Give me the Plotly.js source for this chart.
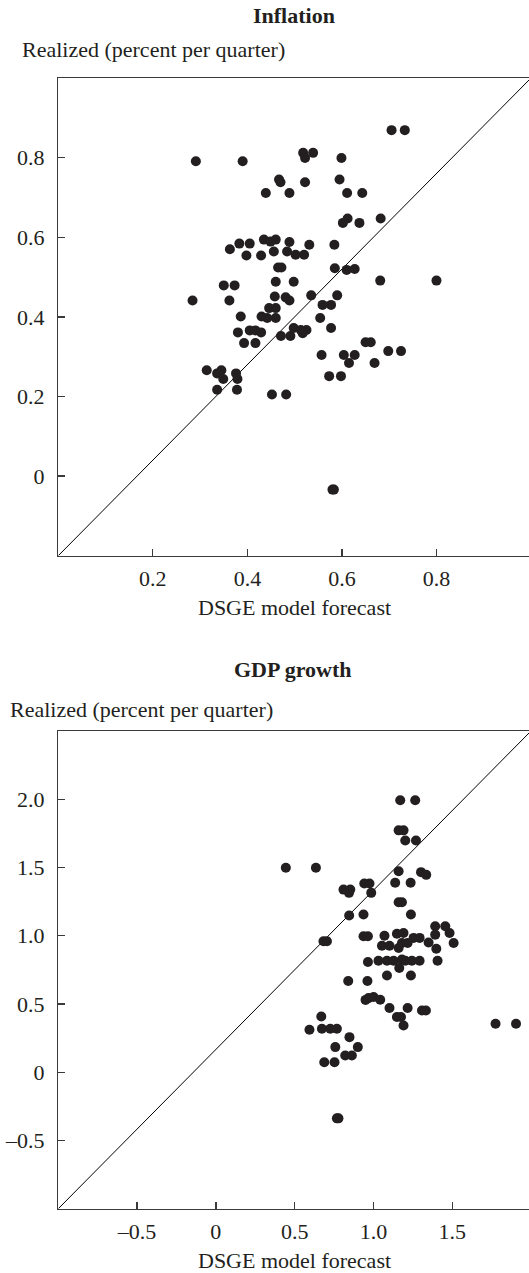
<!DOCTYPE html>
<html>
<head>
<meta charset="utf-8">
<script src="https://cdn.plot.ly/plotly-3.0.1.min.js"></script>
<style>
html,body{margin:0;padding:0;background:#fff;overflow:hidden;}
#chart{width:531px;height:1273px;}
</style>
</head>
<body>
<div id="chart"></div>
<script>
// ---- Inflation panel ----
const inflForecast = [0.291,0.390,0.518,0.539,0.522,0.599,0.705,0.733,0.467,0.470,0.522,0.595,0.439,0.489,0.611,0.643,
  0.612,0.602,0.637,0.682,0.435,0.460,0.449,0.489,0.363,0.383,0.405,0.398,0.429,0.456,0.484,0.502,0.520,0.531,0.584,
  0.465,0.472,0.585,0.610,0.627,0.460,0.498,0.681,0.800,0.350,0.373,0.284,0.362,0.458,0.481,0.489,0.535,0.590,0.559,
  0.577,0.446,0.460,0.386,0.430,0.442,0.460,0.554,0.380,0.405,0.417,0.429,0.393,0.417,0.471,0.491,0.498,0.513,0.525,
  0.517,0.577,0.557,0.604,0.627,0.615,0.650,0.661,0.669,0.698,0.725,0.573,0.598,0.314,0.336,0.345,0.349,0.376,0.379,
  0.336,0.378,0.452,0.482,0.580,0.583];
const inflRealized = [0.791,0.791,0.812,0.812,0.799,0.799,0.869,0.869,0.745,0.738,0.738,0.745,0.711,0.711,0.711,0.711,
  0.647,0.636,0.636,0.647,0.594,0.594,0.589,0.588,0.570,0.584,0.584,0.554,0.554,0.564,0.564,0.556,0.556,0.581,0.581,
  0.524,0.524,0.522,0.518,0.520,0.488,0.488,0.491,0.491,0.479,0.479,0.441,0.441,0.451,0.449,0.441,0.454,0.454,0.430,
  0.430,0.422,0.422,0.401,0.401,0.397,0.397,0.397,0.361,0.366,0.366,0.361,0.334,0.334,0.352,0.352,0.372,0.367,0.367,
  0.359,0.372,0.304,0.304,0.304,0.284,0.336,0.336,0.284,0.314,0.314,0.251,0.251,0.266,0.258,0.266,0.244,0.258,0.244,
  0.217,0.217,0.205,0.205,-0.034,-0.034];
const inflXRange = [0, 1.0];
const inflYRange = [-0.2, 1.0];
const inflXTicks = [0.2, 0.4, 0.6, 0.8];
const inflXTickText = ["0.2", "0.4", "0.6", "0.8"];
const inflYTicks = [0, 0.2, 0.4, 0.6, 0.8];
const inflYTickText = ["0", "0.2", "0.4", "0.6", "0.8"];

// ---- GDP growth panel ----
const gdpForecast = [0.444,0.635,1.170,1.265,1.160,1.191,1.202,1.270,1.160,1.302,1.335,1.138,1.236,0.942,0.975,0.986,
  0.810,0.853,0.845,1.160,1.181,1.238,0.846,0.937,1.392,1.456,1.483,1.392,1.509,0.683,0.705,0.937,0.965,1.070,
  1.149,1.191,1.255,1.293,1.054,1.102,1.160,1.181,1.217,1.350,1.399,0.965,1.032,1.086,1.128,1.181,1.202,1.244,1.293,1.407,
  1.164,1.086,1.238,0.840,0.962,0.969,1.001,1.043,0.950,1.102,1.217,1.308,1.333,1.149,1.175,1.191,
  0.594,0.669,0.673,0.726,0.768,0.848,0.758,0.901,0.821,0.863,0.688,0.753,0.768,0.778,1.775,1.905];
const gdpRealized = [1.498,1.498,1.992,1.992,1.772,1.772,1.698,1.698,1.473,1.466,1.446,1.388,1.388,1.383,1.383,1.314,
  1.338,1.338,1.314,1.245,1.245,1.155,1.148,1.155,1.069,1.069,1.020,1.008,0.947,0.959,0.959,0.996,0.996,1.000,
  1.015,1.020,0.984,0.984,0.927,0.927,0.910,0.947,0.947,0.951,0.905,0.807,0.817,0.817,0.817,0.825,0.817,0.817,0.817,0.817,
  0.763,0.709,0.709,0.668,0.668,0.543,0.551,0.531,0.530,0.470,0.470,0.452,0.452,0.404,0.404,0.342,
  0.311,0.408,0.318,0.318,0.318,0.257,0.184,0.184,0.122,0.122,0.073,0.073,-0.338,-0.338,0.355,0.355];
const gdpXRange = [-1.0, 2.0];
const gdpYRange = [-1.0, 2.5];
const gdpXTicks = [-0.5, 0, 0.5, 1.0, 1.5];
const gdpXTickText = ["\u20130.5", "0", "0.5", "1.0", "1.5"];
const gdpYTicks = [-0.5, 0, 0.5, 1.0, 1.5, 2.0];
const gdpYTickText = ["\u20130.5", "0", "0.5", "1.0", "1.5", "2.0"];

const titles = ["Inflation", "GDP growth"];
const yLabel = "Realized (percent per quarter)";
const xLabel = "DSGE model forecast";

// ---- styling / layout ----
const W = 531, H = 1273;
const ink = "#231f20";
const axisCol = "#3a3a3a";
const font = {family: "Liberation Serif, Times New Roman, serif", size: 22, color: ink};
const py = p => 1 - p / H;
const xDom = [58.3 / W, 1];

const marker = {color: ink, size: 10, line: {width: 0}};

const traces = [
  {x: inflXRange, y: inflYRange, xaxis: "x", yaxis: "y", mode: "lines", line: {color: "#000", width: 1}, hoverinfo: "skip"},
  {x: inflForecast, y: inflRealized, xaxis: "x", yaxis: "y", mode: "markers", type: "scatter", marker: marker},
  {x: gdpXRange, y: gdpYRange, xaxis: "x2", yaxis: "y2", mode: "lines", line: {color: "#000", width: 1}, hoverinfo: "skip"},
  {x: gdpForecast, y: gdpRealized, xaxis: "x2", yaxis: "y2", mode: "markers", type: "scatter", marker: marker}
];

function axisBase() {
  return {
    showgrid: false, zeroline: false, showline: true, linecolor: axisCol, linewidth: 1.4,
    mirror: true, ticks: "inside", ticklen: 7, tickwidth: 1.3, tickcolor: axisCol,
    tickfont: font, tickmode: "array", automargin: false, fixedrange: true
  };
}

const layout = {
  width: W, height: H,
  margin: {l: 0, r: 0, t: 0, b: 0},
  paper_bgcolor: "#fff", plot_bgcolor: "#fff",
  showlegend: false,
  font: font,
  xaxis: Object.assign(axisBase(), {domain: xDom, range: inflXRange, tickvals: inflXTicks, ticktext: inflXTickText, anchor: "y", ticklabelstandoff: 2}),
  yaxis: Object.assign(axisBase(), {domain: [py(555.7), py(78)], range: inflYRange, tickvals: inflYTicks, ticktext: inflYTickText, anchor: "x", ticklabelstandoff: 8}),
  xaxis2: Object.assign(axisBase(), {domain: xDom, range: gdpXRange, tickvals: gdpXTicks, ticktext: gdpXTickText, anchor: "y2", ticklabelstandoff: 2}),
  yaxis2: Object.assign(axisBase(), {domain: [py(1208.7), py(731)], range: gdpYRange, tickvals: gdpYTicks, ticktext: gdpYTickText, anchor: "x2", ticklabelstandoff: 8}),
  annotations: [
    {text: "<b>" + titles[0] + "</b>", xref: "paper", yref: "paper", x: 294 / W, y: py(16), xanchor: "center", yanchor: "middle", showarrow: false, font: font},
    {text: yLabel, xref: "paper", yref: "paper", x: 20 / W, y: py(49), xanchor: "left", yanchor: "middle", showarrow: false, font: font},
    {text: xLabel, xref: "paper", yref: "paper", x: 294 / W, y: py(607.5), xanchor: "center", yanchor: "middle", showarrow: false, font: font},
    {text: "<b>" + titles[1] + "</b>", xref: "paper", yref: "paper", x: 293 / W, y: py(669.7), xanchor: "center", yanchor: "middle", showarrow: false, font: font},
    {text: yLabel, xref: "paper", yref: "paper", x: 8.3 / W, y: py(709), xanchor: "left", yanchor: "middle", showarrow: false, font: font},
    {text: xLabel, xref: "paper", yref: "paper", x: 294 / W, y: py(1260.5), xanchor: "center", yanchor: "middle", showarrow: false, font: font}
  ]
};

Plotly.newPlot("chart", traces, layout, {staticPlot: true, displayModeBar: false});
</script>
</body>
</html>
